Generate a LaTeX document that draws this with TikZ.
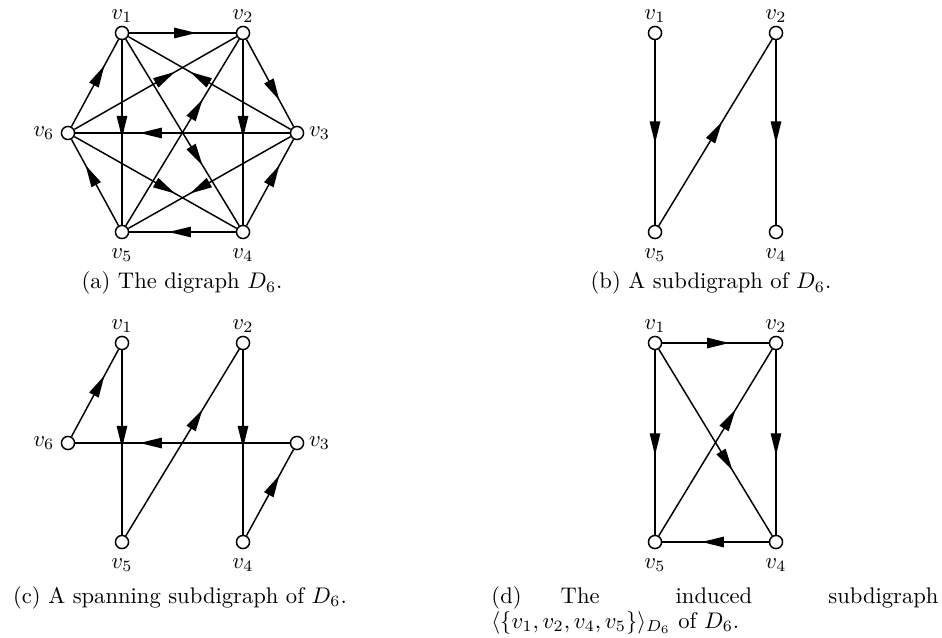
\documentclass[tikz,border=0pt]{standalone}
\usepackage{amsmath}
\usetikzlibrary{arrows.meta,decorations.markings}
\tikzset{
  vtx/.style={circle,draw,fill=white,line width=0.65pt,minimum size=5.8pt,inner sep=0pt},
  arr/.style={line width=0.65pt,postaction={decorate},
    decoration={markings,mark=at position #1 with {\arrow{Triangle[length=9.8pt,width=4.6pt]}}}},
  la/.style={label={[inner sep=0pt,label distance=1pt]above:#1}},
  lb/.style={label={[inner sep=0pt,label distance=3.8pt]below:#1}},
  ll/.style={label={[inner sep=0pt,label distance=2.6pt]left:#1}},
  lr/.style={label={[inner sep=0pt,label distance=1.9pt]right:#1}},
  captxt/.style={anchor=base,inner sep=0pt}
}
\begin{document}
\begin{tikzpicture}[x=0.4425pt,y=-0.4425pt]
\useasboundingbox (0,0) rectangle (942,638);
% (a)
\node[vtx,la={$v_1$}] (a1) at (122,33) {};
\node[vtx,la={$v_2$}] (a2) at (243,33) {};
\node[vtx,lr={$v_3$}] (a3) at (297,133) {};
\node[vtx,lb={$v_4$}] (a4) at (243,232) {};
\node[vtx,lb={$v_5$}] (a5) at (122,232) {};
\node[vtx,ll={$v_6$}] (a6) at (68,133) {};
\draw[arr=0.63] (a1) -- (a2);
\draw[arr=0.70] (a2) -- (a3);
\draw[arr=0.70] (a4) -- (a3);
\draw[arr=0.63] (a4) -- (a5);
\draw[arr=0.70] (a5) -- (a6);
\draw[arr=0.70] (a6) -- (a1);
\draw[arr=0.53] (a1) -- (a5);
\draw[arr=0.53] (a2) -- (a4);
\draw[arr=0.70] (a3) -- (a6);
\draw[arr=0.677] (a1) -- (a4);
\draw[arr=0.677] (a5) -- (a2);
\draw[arr=0.62] (a6) -- (a2);
\draw[arr=0.62] (a3) -- (a1);
\draw[arr=0.62] (a6) -- (a4);
\draw[arr=0.62] (a3) -- (a5);
\node[captxt] (capa) at (182,289) {(a) The digraph $D_6$.};
% (b)
\node[vtx,la={$v_1$}] (b1) at (655,33) {};
\node[vtx,la={$v_2$}] (b2) at (776,33) {};
\node[vtx,lb={$v_4$}] (b4) at (776,232) {};
\node[vtx,lb={$v_5$}] (b5) at (655,232) {};
\draw[arr=0.56] (b1) -- (b5);
\draw[arr=0.56] (b2) -- (b4);
\draw[arr=0.558] (b5) -- (b2);
\node[captxt] (capb) at (711,289) {(b) A subdigraph of $D_6$.};
% (c)
\node[vtx,la={$v_1$}] (c1) at (122,343) {};
\node[vtx,la={$v_2$}] (c2) at (243,343) {};
\node[vtx,lr={$v_3$}] (c3) at (297,443) {};
\node[vtx,lb={$v_4$}] (c4) at (243,542) {};
\node[vtx,lb={$v_5$}] (c5) at (122,542) {};
\node[vtx,ll={$v_6$}] (c6) at (68,443) {};
\draw[arr=0.70] (c6) -- (c1);
\draw[arr=0.53] (c1) -- (c5);
\draw[arr=0.70] (c3) -- (c6);
\draw[arr=0.53] (c2) -- (c4);
\draw[arr=0.677] (c5) -- (c2);
\draw[arr=0.70] (c4) -- (c3);
\node[captxt] (capc) at (180,603) {(c) A spanning subdigraph of $D_6$.};
% (d)
\node[vtx,la={$v_1$}] (d1) at (655,343) {};
\node[vtx,la={$v_2$}] (d2) at (776,343) {};
\node[vtx,lb={$v_4$}] (d4) at (776,542) {};
\node[vtx,lb={$v_5$}] (d5) at (655,542) {};
\draw[arr=0.63] (d1) -- (d2);
\draw[arr=0.57] (d1) -- (d5);
\draw[arr=0.57] (d2) -- (d4);
\draw[arr=0.677] (d5) -- (d2);
\draw[arr=0.65] (d1) -- (d4);
\draw[arr=0.63] (d4) -- (d5);
\node[captxt,anchor=base west] (capd) at (491,603) {\hbox to 197.8pt{(d)\hspace{17.3pt}The\hfill induced\hfill subdigraph}};
\node[captxt,anchor=base west] (capd2) at (491,628) {$\langle\{v_1,v_2,v_4,v_5\}\rangle_{D_6}$ of $D_6$.};
\end{tikzpicture}
\end{document}
